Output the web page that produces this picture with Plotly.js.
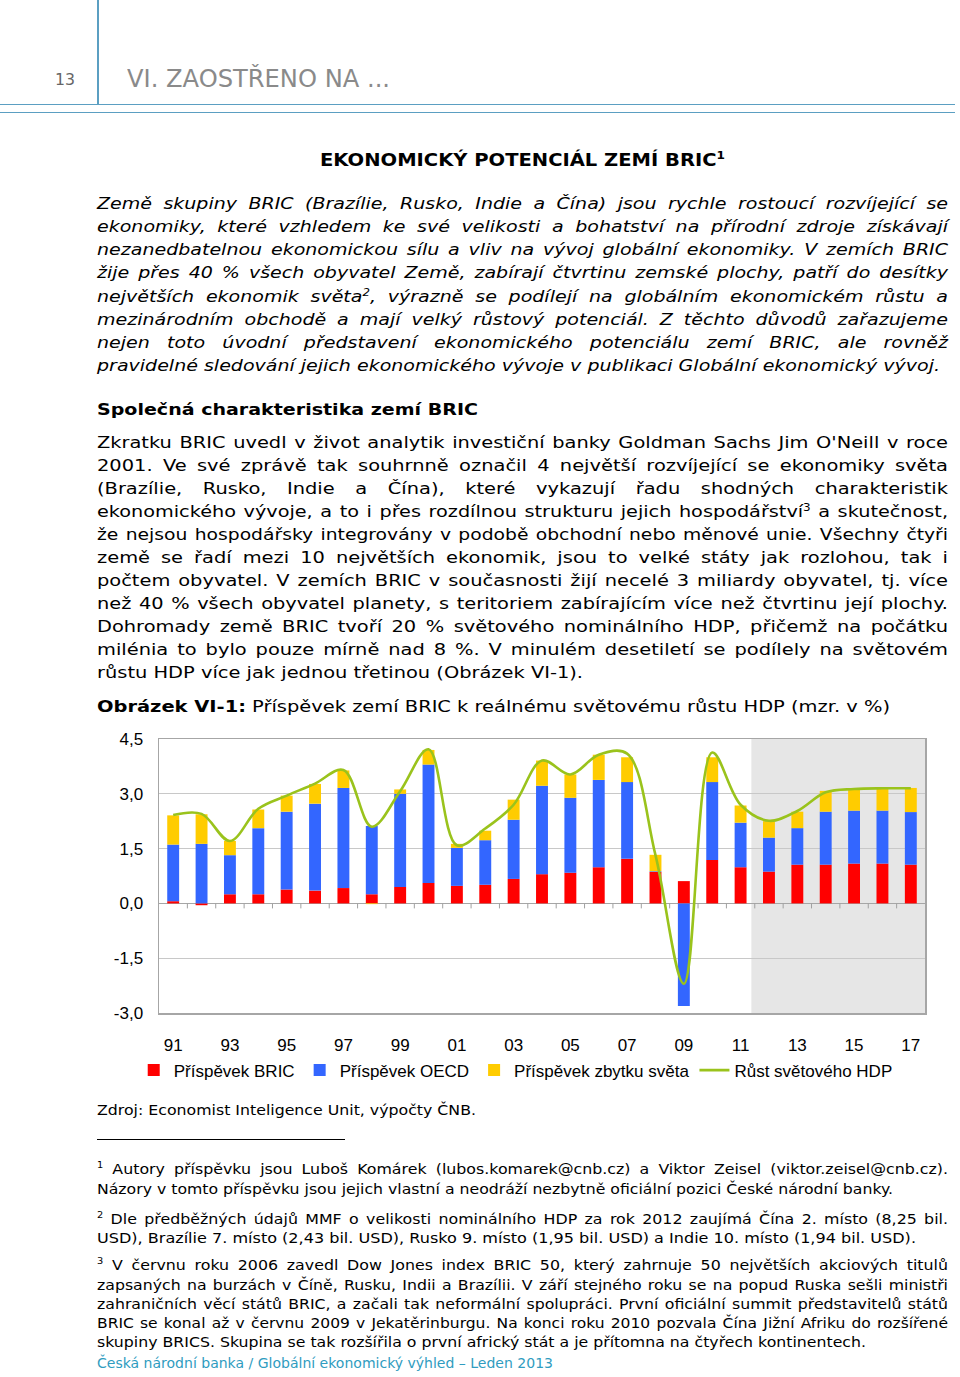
<!DOCTYPE html>
<html><head><meta charset="utf-8">
<script src="https://cdn.plot.ly/plotly-3.0.1.min.js"></script>
<style>
body{margin:0;background:#fff;width:960px;height:1377px;position:relative;overflow:hidden;font-family:"DejaVu Sans",Verdana,sans-serif;color:#000}
.ln{position:absolute;left:97px;width:851px;font-size:16px;line-height:23px;white-space:nowrap;transform-origin:0 50%}
.fn{font-size:14.5px;line-height:19px}
.j{text-align:justify;text-align-last:justify;white-space:normal}
.it{font-style:italic}
sup{font-size:0.62em;line-height:0;vertical-align:0.65em}
#chart{position:absolute;left:0;top:720px;width:960px;height:380px}
.hl{position:absolute;background:#5b9fc2}
</style></head><body>
<div class="hl" style="left:97px;top:0;width:1.5px;height:104px"></div>
<div class="hl" style="left:0;top:103.5px;width:955px;height:1.5px"></div>
<div class="hl" style="left:0;top:111.5px;width:955px;height:1.5px"></div>
<div id="lines"></div>
<div id="chart"></div>
<script>
// ---------- chart data ----------
const years = [1991,1992,1993,1994,1995,1996,1997,1998,1999,2000,2001,2002,2003,2004,2005,2006,2007,2008,2009,2010,2011,2012,2013,2014,2015,2016,2017];
const bricContribution = [0.06,-0.05,0.25,0.25,0.38,0.35,0.42,0.25,0.45,0.56,0.48,0.51,0.67,0.80,0.84,0.99,1.22,0.86,0.61,1.19,0.99,0.87,1.06,1.06,1.09,1.09,1.06];
const oecdContribution = [1.55,1.63,1.07,1.81,2.13,2.38,2.74,1.87,2.55,3.24,1.04,1.22,1.62,2.42,2.05,2.39,2.10,0.02,-2.81,2.13,1.22,0.93,1.00,1.45,1.45,1.45,1.44];
const restContribution = [0.80,0.81,0.39,0.51,0.44,0.54,0.48,-0.02,0.12,0.40,0.11,0.26,0.55,0.69,0.64,0.69,0.68,0.45,0.00,0.68,0.47,0.45,0.45,0.57,0.59,0.60,0.66];
const worldGrowth = [2.42,2.45,1.71,2.59,2.95,3.28,3.65,2.10,3.07,4.22,1.59,2.05,2.70,3.91,3.53,4.07,4.10,1.32,-2.20,4.13,2.70,2.26,2.53,3.04,3.13,3.15,3.15];
const xTickYears = [1991,1993,1995,1997,1999,2001,2003,2005,2007,2009,2011,2013,2015,2017];
const xTickLabels = ['91','93','95','97','99','01','03','05','07','09','11','13','15','17'];
const yTickValues = [-3,-1.5,0,1.5,3,4.5];
const yTickLabels = ['-3,0','-1,5','0,0','1,5','3,0','4,5'];
const seriesNames = ['Příspěvek BRIC','Příspěvek OECD','Příspěvek zbytku světa','Růst světového HDP'];
const firstForecastYear = 2012;

// ---------- text lines ----------
// [html, centerY, class, targetWidth(for non-justified), left]
const L = [
 ['<span style="color:#666;font-size:15px">13</span>',80,'',20,55],
 ['<span style="color:#8a8a8a;font-size:25px">VI. ZAOSTŘENO NA ...</span>',79,'',263,127],
 ['<b style="font-size:17px">EKONOMICKÝ POTENCIÁL ZEMÍ BRIC<sup>1</sup></b>',161,'',405,320],
 ['Země skupiny BRIC (Brazílie, Rusko, Indie a Čína) jsou rychle rostoucí rozvíjející se',204,'it j'],
 ['ekonomiky, které vzhledem ke své velikosti a bohatství na přírodní zdroje získávají',227,'it j'],
 ['nezanedbatelnou ekonomickou sílu a vliv na vývoj globální ekonomiky. V zemích BRIC',250,'it j'],
 ['žije přes 40 % všech obyvatel Země, zabírají čtvrtinu zemské plochy, patří do desítky',273,'it j'],
 ['největších ekonomik světa<sup>2</sup>, výrazně se podílejí na globálním ekonomickém růstu a',297,'it j'],
 ['mezinárodním obchodě a mají velký růstový potenciál. Z těchto důvodů zařazujeme',320,'it j'],
 ['nejen toto úvodní představení ekonomického potenciálu zemí BRIC, ale rovněž',343,'it j'],
 ['pravidelné sledování jejich ekonomického vývoje v publikaci Globální ekonomický vývoj.',366,'it',843],
 ['<b>Společná charakteristika zemí BRIC</b>',410,'',381],
 ['Zkratku BRIC uvedl v život analytik investiční banky Goldman Sachs Jim O\'Neill v roce',443,'j'],
 ['2001. Ve své zprávě tak souhrnně označil 4 největší rozvíjející se ekonomiky světa',466,'j'],
 ['(Brazílie, Rusko, Indie a Čína), které vykazují řadu shodných charakteristik',489,'j'],
 ['ekonomického vývoje, a to i přes rozdílnou strukturu jejich hospodářství<sup>3</sup> a skutečnost,',512,'j'],
 ['že nejsou hospodářsky integrovány v podobě obchodní nebo měnové unie. Všechny čtyři',535,'j'],
 ['země se řadí mezi 10 největších ekonomik, jsou to velké státy jak rozlohou, tak i',558,'j'],
 ['počtem obyvatel. V zemích BRIC v současnosti žijí necelé 3 miliardy obyvatel, tj. více',581,'j'],
 ['než 40 % všech obyvatel planety, s teritoriem zabírajícím více než čtvrtinu její plochy.',604,'j'],
 ['Dohromady země BRIC tvoří 20 % světového nominálního HDP, přičemž na počátku',627,'j'],
 ['milénia to bylo pouze mírně nad 8 %. V minulém desetiletí se podílely na světovém',650,'j'],
 ['růstu HDP více jak jednou třetinou (Obrázek VI-1).',673,'',486],
 ['<b>Obrázek VI-1:</b> Příspěvek zemí BRIC k reálnému světovému růstu HDP (mzr. v %)',707,'',793],
 ['Zdroj: Economist Inteligence Unit, výpočty ČNB.',1111,'fn',379],
 ['<sup>1</sup> Autory příspěvku jsou Luboš Komárek (lubos.komarek@cnb.cz) a Viktor Zeisel (viktor.zeisel@cnb.cz).',1170,'fn j'],
 ['Názory v tomto příspěvku jsou jejich vlastní a neodráží nezbytně oficiální pozici České národní banky.',1190,'fn',796],
 ['<sup>2</sup> Dle předběžných údajů MMF o velikosti nominálního HDP za rok 2012 zaujímá Čína 2. místo (8,25 bil.',1220,'fn j'],
 ['USD), Brazílie 7. místo (2,43 bil. USD), Rusko 9. místo (1,95 bil. USD) a Indie 10. místo (1,94 bil. USD).',1239,'fn',819],
 ['<sup>3</sup> V červnu roku 2006 zavedl Dow Jones index BRIC 50, který zahrnuje 50 největších akciových titulů',1266,'fn j'],
 ['zapsaných na burzách v Číně, Rusku, Indii a Brazílii. V září stejného roku se na popud Ruska sešli ministři',1286,'fn j'],
 ['zahraničních věcí států BRIC, a začali tak neformální spolupráci. První oficiální summit představitelů států',1305,'fn j'],
 ['BRIC se konal až v červnu 2009 v Jekatěrinburgu. Na konci roku 2010 pozvala Čína Jižní Afriku do rozšířené',1324,'fn j'],
 ['skupiny BRICS. Skupina se tak rozšířila o první africký stát a je přítomna na čtyřech kontinentech.',1343,'fn',769],
 ['<span style="color:#2f9cc0">Česká národní banka / Globální ekonomický výhled – Leden 2013</span>',1364,'fn',456]
];
const host = document.getElementById('lines');
function natWidth(d, html) {
  const span = document.createElement('span');
  span.innerHTML = html; span.style.whiteSpace = 'nowrap';
  d.innerHTML = ''; d.appendChild(span);
  d.style.textAlign = 'left'; d.style.textAlignLast = 'left'; d.style.width = '2000px';
  const w = span.getBoundingClientRect().width;
  d.style.textAlign = ''; d.style.textAlignLast = ''; d.style.width = '';
  d.innerHTML = html;
  return w;
}
const made = L.map(([html, cy, cls, tw, left]) => {
  const d = document.createElement('div');
  d.className = 'ln ' + cls;
  const lh = cls.includes('fn') ? 19 : 23;
  d.style.top = (cy - lh/2 - 1) + 'px';
  if (left !== undefined) d.style.left = left + 'px';
  host.appendChild(d);
  const nat = natWidth(d, html);
  return {d, html, cls, tw, nat};
});
function groupRatio(test) {
  const rs = made.filter(m => !m.cls.includes('j') && m.tw && test(m)).map(m => m.tw / m.nat);
  return rs.reduce((a,b)=>a+b,0) / rs.length;
}
const rIt = groupRatio(m => m.cls.includes('it'));
const rBody = groupRatio(m => m.cls.trim()==='' && !m.html.startsWith('<'));
const rFn = groupRatio(m => m.cls.includes('fn') && !m.html.startsWith('<span'));
made.forEach(m => {
  if (m.cls.includes('j')) {
    const rg = m.cls.includes('it') ? rIt : (m.cls.includes('fn') ? rFn : rBody);
    const nSp = (m.d.textContent.match(/ /g) || []).length;
    const r = Math.min(rg, 851 / (m.nat + nSp * 1.2));
    m.d.style.width = (851 / r) + 'px';
    m.d.style.transform = 'scaleX(' + r + ')';
  } else if (m.tw) {
    m.d.style.width = 'auto';
    m.d.style.transform = 'scaleX(' + (m.tw / m.nat) + ')';
  } else {
    m.d.style.width = 'auto';
  }
});
const rule = document.createElement('div');
rule.style.cssText = 'position:absolute;left:97px;top:1139px;width:248px;height:1px;background:#000';
document.body.appendChild(rule);

// ---------- chart ----------
const F = '"Liberation Sans", Arial, sans-serif';
const barColors = ['#ff0000','#3366ff','#ffcc00'];
const traces = [bricContribution, oecdContribution, restContribution].map((v,i) => ({
  type:'bar', x:years, y:v, name:seriesNames[i], marker:{color:barColors[i], line:{width:0}}
}));
traces.push({type:'scatter', mode:'lines', x:years, y:worldGrowth, name:seriesNames[3],
  line:{color:'#9ac31c', width:2.6, shape:'spline', smoothing:1}});

const shapes = [{type:'rect', layer:'below', xref:'x', yref:'paper', x0:firstForecastYear-0.62, x1:years[years.length-1]+0.5, y0:0, y1:1, fillcolor:'#e6e6e6', line:{width:0}}];
years.slice(0,-1).forEach(y => shapes.push({type:'line', xref:'x', yref:'y', x0:y+0.5, x1:y+0.5, ysizemode:'pixel', yanchor:0, y0:0, y1:-5, line:{color:'#a0a0a0', width:1}}));

Plotly.newPlot('chart', traces, {
  width:960, height:380, margin:{l:159, r:35, t:19, b:81},
  paper_bgcolor:'rgba(0,0,0,0)', plot_bgcolor:'#fff',
  barmode:'relative', bargap:0.58, showlegend:true,
  font:{family:F, size:17, color:'#000'},
  xaxis:{range:[years[0]-0.5, years[years.length-1]+0.5], tickvals:xTickYears, ticktext:xTickLabels,
    showgrid:false, zeroline:false, showline:true, mirror:true, linecolor:'#a6a6a6', linewidth:1.5, ticks:'', ticklabelstandoff:16, tickfont:{family:F, size:17}},
  yaxis:{range:[-3,4.5], tickvals:yTickValues, ticktext:yTickLabels, showgrid:true, gridcolor:'#c8c8c8', gridwidth:1,
    zeroline:true, zerolinecolor:'#a6a6a6', zerolinewidth:1.5, showline:true, mirror:true, linecolor:'#a6a6a6', linewidth:1.5,
    ticks:'', ticklabelstandoff:11, tickfont:{family:F, size:17}},
  legend:{orientation:'h', x:-0.033, xanchor:'left', y:-0.21, yanchor:'middle', traceorder:'normal',
    font:{family:F, size:17}, bgcolor:'rgba(0,0,0,0)', itemwidth:30, tracegroupgap:0},
  shapes:shapes
}, {displayModeBar:false, staticPlot:true});
</script>
</body></html>
